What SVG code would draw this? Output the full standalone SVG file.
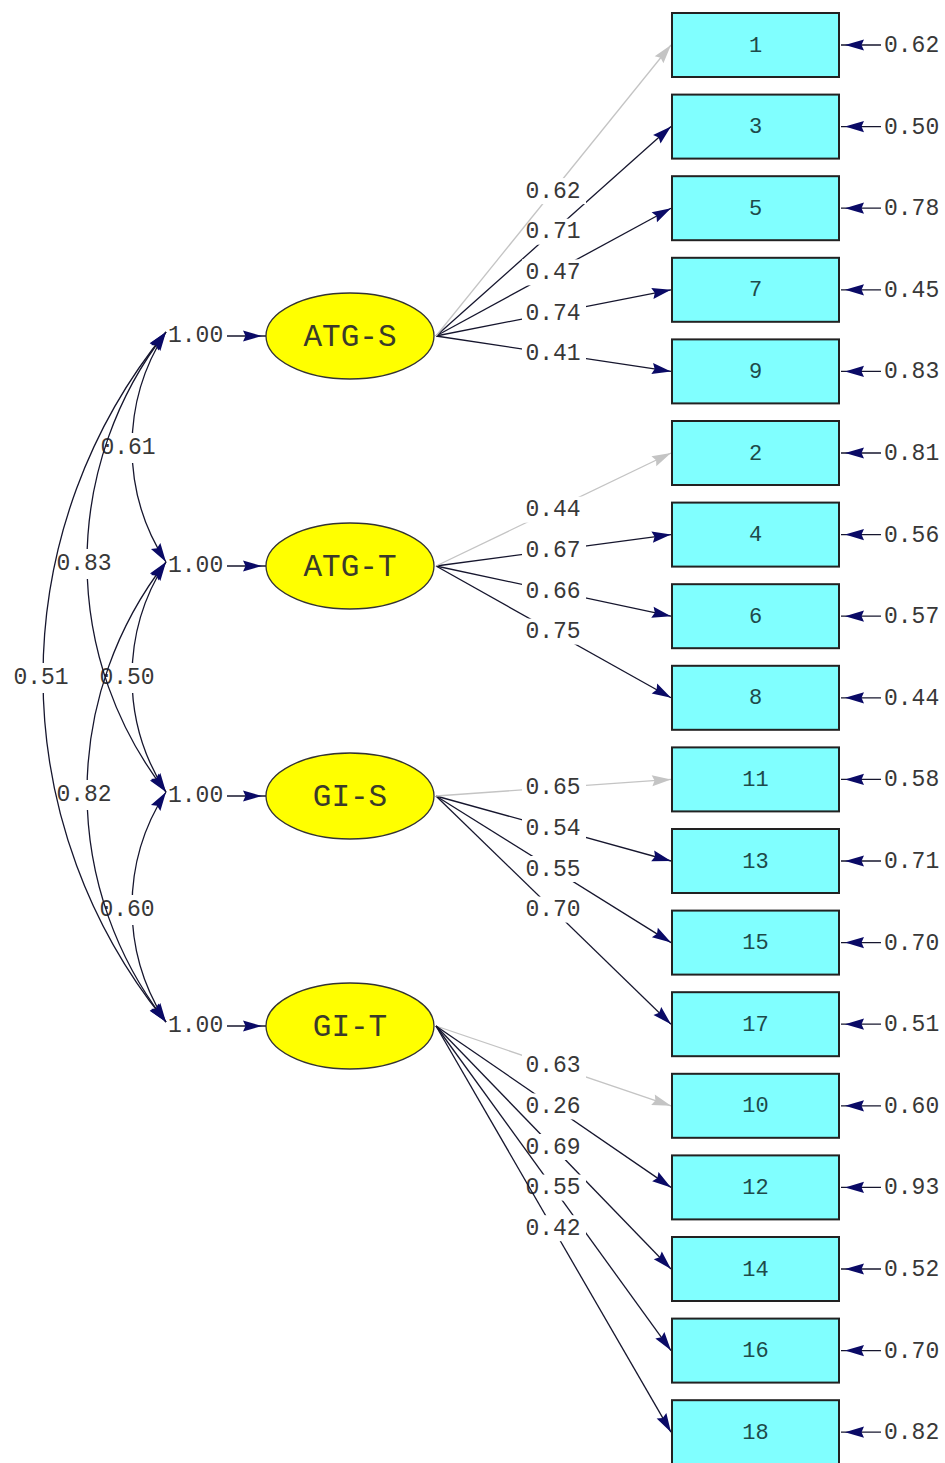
<svg xmlns="http://www.w3.org/2000/svg" width="945" height="1463" viewBox="0 0 945 1463">
  <style>
    .num { font-family: "Liberation Mono", "DejaVu Sans Mono", monospace; font-size: 23px; fill: #383838; dominant-baseline: central; }
    .mid { text-anchor: middle; }
    .obs-txt { font-family: "Liberation Mono", "DejaVu Sans Mono", monospace; font-size: 22px; fill: #1e4a4a; text-anchor: middle; dominant-baseline: central; }
    .lat-txt { font-family: "Liberation Mono", "DejaVu Sans Mono", monospace; font-size: 31px; fill: #3a3a2a; text-anchor: middle; dominant-baseline: central; }
    .obs { fill: #80ffff; stroke: #222; stroke-width: 2; }
    .lat { fill: #ffff00; stroke: #333; stroke-width: 1.3; }
    .path { fill: none; stroke: #16162e; stroke-width: 1.3; marker-end: url(#ah); }
    .short { fill: none; stroke: #16162e; stroke-width: 1.3; marker-end: url(#ahs); }
    .ref { fill: none; stroke: #c4c4c4; stroke-width: 1.3; marker-end: url(#ahg); }
    .cov { fill: none; stroke: #16162e; stroke-width: 1.3; marker-start: url(#ah); marker-end: url(#ah); }
    .gap { fill: #fff; }
  </style>
  <defs>
    <!-- standard arrowhead, tip on the path end -->
    <marker id="ah" viewBox="-21 -7 22 14" refX="0" refY="0" markerWidth="22" markerHeight="14" markerUnits="userSpaceOnUse" orient="auto-start-reverse">
      <path d="M0,0 L-19,-5.6 L-16.5,0 L-19,5.6 Z" fill="#0a0a66"/>
    </marker>
    <!-- arrowhead set back a little, line runs past the tip -->
    <marker id="ahs" viewBox="-21 -7 27 14" refX="4" refY="0" markerWidth="27" markerHeight="14" markerUnits="userSpaceOnUse" orient="auto">
      <path d="M0,0 L-19,-5.6 L-16.5,0 L-19,5.6 Z" fill="#0a0a66"/>
    </marker>
    <marker id="ahg" viewBox="-21 -7 22 14" refX="0" refY="0" markerWidth="22" markerHeight="14" markerUnits="userSpaceOnUse" orient="auto">
      <path d="M0,0 L-19,-5.6 L-16.5,0 L-19,5.6 Z" fill="#c4c4c4"/>
    </marker>
  </defs>
  <rect width="945" height="1463" fill="#fff"/>

  <g id="connectors">
    <!-- factor covariances: adjacent pairs -->
    <path class="cov" d="M166,332 A211.5,211.5 0 0 0 166,562"/>
    <rect class="gap" x="98" y="433" width="60" height="30"/>
    <text class="num mid" x="128" y="448">0.61</text>
    <path class="cov" d="M166,562 A211.5,211.5 0 0 0 166,792"/>
    <rect class="gap" x="97" y="663" width="60" height="30"/>
    <text class="num mid" x="127" y="678">0.50</text>
    <path class="cov" d="M166,792 A211.5,211.5 0 0 0 166,1022"/>
    <rect class="gap" x="97" y="895" width="60" height="30"/>
    <text class="num mid" x="127" y="910">0.60</text>
    <!-- covariances spanning one factor -->
    <path class="cov" d="M166,332 A374.3,374.3 0 0 0 166,792"/>
    <rect class="gap" x="54" y="549" width="60" height="30"/>
    <text class="num mid" x="84" y="564">0.83</text>
    <path class="cov" d="M166,562 A374.3,374.3 0 0 0 166,1022"/>
    <rect class="gap" x="54" y="780" width="60" height="30"/>
    <text class="num mid" x="84" y="795">0.82</text>
    <!-- outermost covariance -->
    <path class="cov" d="M166,332 A545.3,545.3 0 0 0 166,1022"/>
    <rect class="gap" x="11" y="663" width="60" height="30"/>
    <text class="num mid" x="41" y="678">0.51</text>

    <!-- factor variances -->
    <text class="num" x="168" y="336">1.00</text>
    <line class="short" x1="227" y1="336" x2="266" y2="336"/>
    <text class="num" x="168" y="566">1.00</text>
    <line class="short" x1="227" y1="566" x2="266" y2="566"/>
    <text class="num" x="168" y="796">1.00</text>
    <line class="short" x1="227" y1="796" x2="266" y2="796"/>
    <text class="num" x="168" y="1026">1.00</text>
    <line class="short" x1="227" y1="1026" x2="266" y2="1026"/>

    <!-- loadings ATG-S -->
    <line class="path" x1="436" y1="336" x2="671" y2="126.6"/>
    <rect class="gap" x="522" y="218.7" width="64" height="26"/>
    <text class="num mid" x="553" y="232.2">0.71</text>
    <line class="path" x1="436" y1="336" x2="671" y2="208.2"/>
    <rect class="gap" x="522" y="259.4" width="64" height="26"/>
    <text class="num mid" x="553" y="272.9">0.47</text>
    <line class="path" x1="436" y1="336" x2="671" y2="289.8"/>
    <rect class="gap" x="522" y="300" width="64" height="26"/>
    <text class="num mid" x="553" y="313.5">0.74</text>
    <line class="path" x1="436" y1="336" x2="671" y2="371.4"/>
    <rect class="gap" x="522" y="340.6" width="64" height="26"/>
    <text class="num mid" x="553" y="354.1">0.41</text>
    <line class="ref" x1="436" y1="336" x2="671" y2="45"/>
    <rect class="gap" x="522" y="178.1" width="64" height="26"/>
    <text class="num mid" x="553" y="191.6">0.62</text>

    <!-- loadings ATG-T -->
    <line class="path" x1="436" y1="566" x2="671" y2="534.6"/>
    <rect class="gap" x="522" y="537.4" width="64" height="26"/>
    <text class="num mid" x="553" y="550.9">0.67</text>
    <line class="path" x1="436" y1="566" x2="671" y2="616.2"/>
    <rect class="gap" x="522" y="578" width="64" height="26"/>
    <text class="num mid" x="553" y="591.5">0.66</text>
    <line class="path" x1="436" y1="566" x2="671" y2="697.8"/>
    <rect class="gap" x="522" y="618.6" width="64" height="26"/>
    <text class="num mid" x="553" y="632.1">0.75</text>
    <line class="ref" x1="436" y1="566" x2="671" y2="453"/>
    <rect class="gap" x="522" y="496.7" width="64" height="26"/>
    <text class="num mid" x="553" y="510.2">0.44</text>

    <!-- loadings GI-S -->
    <line class="path" x1="436" y1="796" x2="671" y2="861"/>
    <rect class="gap" x="522" y="815.4" width="64" height="26"/>
    <text class="num mid" x="553" y="828.9">0.54</text>
    <line class="path" x1="436" y1="796" x2="671" y2="942.6"/>
    <rect class="gap" x="522" y="856" width="64" height="26"/>
    <text class="num mid" x="553" y="869.5">0.55</text>
    <line class="path" x1="436" y1="796" x2="671" y2="1024.2"/>
    <rect class="gap" x="522" y="896.6" width="64" height="26"/>
    <text class="num mid" x="553" y="910.1">0.70</text>
    <line class="ref" x1="436" y1="796" x2="671" y2="779.4"/>
    <rect class="gap" x="522" y="774.7" width="64" height="26"/>
    <text class="num mid" x="553" y="788.2">0.65</text>

    <!-- loadings GI-T -->
    <line class="ref" x1="436" y1="1026" x2="671" y2="1105.8"/>
    <rect class="gap" x="522" y="1052.7" width="64" height="26"/>
    <text class="num mid" x="553" y="1066.2">0.63</text>
    <line class="path" x1="436" y1="1026" x2="671" y2="1187.4"/>
    <rect class="gap" x="522" y="1093.4" width="64" height="26"/>
    <text class="num mid" x="553" y="1106.9">0.26</text>
    <line class="path" x1="436" y1="1026" x2="671" y2="1269"/>
    <rect class="gap" x="522" y="1134" width="64" height="26"/>
    <text class="num mid" x="553" y="1147.5">0.69</text>
    <line class="path" x1="436" y1="1026" x2="671" y2="1350.6"/>
    <rect class="gap" x="522" y="1174.6" width="64" height="26"/>
    <text class="num mid" x="553" y="1188.1">0.55</text>
    <line class="path" x1="436" y1="1026" x2="671" y2="1432.2"/>
    <rect class="gap" x="522" y="1215.2" width="64" height="26"/>
    <text class="num mid" x="553" y="1228.7">0.42</text>

    <!-- error variances -->
    <g id="errors">
      <line class="short" x1="881" y1="45" x2="841" y2="45"/><text class="num" x="884" y="46">0.62</text>
      <line class="short" x1="881" y1="126.6" x2="841" y2="126.6"/><text class="num" x="884" y="127.6">0.50</text>
      <line class="short" x1="881" y1="208.2" x2="841" y2="208.2"/><text class="num" x="884" y="209.2">0.78</text>
      <line class="short" x1="881" y1="289.8" x2="841" y2="289.8"/><text class="num" x="884" y="290.8">0.45</text>
      <line class="short" x1="881" y1="371.4" x2="841" y2="371.4"/><text class="num" x="884" y="372.4">0.83</text>
      <line class="short" x1="881" y1="453" x2="841" y2="453"/><text class="num" x="884" y="454">0.81</text>
      <line class="short" x1="881" y1="534.6" x2="841" y2="534.6"/><text class="num" x="884" y="535.6">0.56</text>
      <line class="short" x1="881" y1="616.2" x2="841" y2="616.2"/><text class="num" x="884" y="617.2">0.57</text>
      <line class="short" x1="881" y1="697.8" x2="841" y2="697.8"/><text class="num" x="884" y="698.8">0.44</text>
      <line class="short" x1="881" y1="779.4" x2="841" y2="779.4"/><text class="num" x="884" y="780.4">0.58</text>
      <line class="short" x1="881" y1="861" x2="841" y2="861"/><text class="num" x="884" y="862">0.71</text>
      <line class="short" x1="881" y1="942.6" x2="841" y2="942.6"/><text class="num" x="884" y="943.6">0.70</text>
      <line class="short" x1="881" y1="1024.2" x2="841" y2="1024.2"/><text class="num" x="884" y="1025.2">0.51</text>
      <line class="short" x1="881" y1="1105.8" x2="841" y2="1105.8"/><text class="num" x="884" y="1106.8">0.60</text>
      <line class="short" x1="881" y1="1187.4" x2="841" y2="1187.4"/><text class="num" x="884" y="1188.4">0.93</text>
      <line class="short" x1="881" y1="1269" x2="841" y2="1269"/><text class="num" x="884" y="1270">0.52</text>
      <line class="short" x1="881" y1="1350.6" x2="841" y2="1350.6"/><text class="num" x="884" y="1351.6">0.70</text>
      <line class="short" x1="881" y1="1432.2" x2="841" y2="1432.2"/><text class="num" x="884" y="1433.2">0.82</text>
    </g>
  </g>

  <!-- latent factors -->
  <g id="ATG-S"><ellipse class="lat" cx="350" cy="336" rx="84" ry="43"/><text class="lat-txt" x="350" y="337">ATG-S</text></g>
  <g id="ATG-T"><ellipse class="lat" cx="350" cy="566" rx="84" ry="43"/><text class="lat-txt" x="350" y="567">ATG-T</text></g>
  <g id="GI-S"><ellipse class="lat" cx="350" cy="796" rx="84" ry="43"/><text class="lat-txt" x="350" y="797">GI-S</text></g>
  <g id="GI-T"><ellipse class="lat" cx="350" cy="1026" rx="84" ry="43"/><text class="lat-txt" x="350" y="1027">GI-T</text></g>

  <!-- observed indicators -->
  <g id="v1"><rect class="obs" x="672" y="13" width="167" height="64"/><text class="obs-txt" x="755.5" y="46">1</text></g>
  <g id="v3"><rect class="obs" x="672" y="94.6" width="167" height="64"/><text class="obs-txt" x="755.5" y="127.6">3</text></g>
  <g id="v5"><rect class="obs" x="672" y="176.2" width="167" height="64"/><text class="obs-txt" x="755.5" y="209.2">5</text></g>
  <g id="v7"><rect class="obs" x="672" y="257.8" width="167" height="64"/><text class="obs-txt" x="755.5" y="290.8">7</text></g>
  <g id="v9"><rect class="obs" x="672" y="339.4" width="167" height="64"/><text class="obs-txt" x="755.5" y="372.4">9</text></g>
  <g id="v2"><rect class="obs" x="672" y="421" width="167" height="64"/><text class="obs-txt" x="755.5" y="454">2</text></g>
  <g id="v4"><rect class="obs" x="672" y="502.6" width="167" height="64"/><text class="obs-txt" x="755.5" y="535.6">4</text></g>
  <g id="v6"><rect class="obs" x="672" y="584.2" width="167" height="64"/><text class="obs-txt" x="755.5" y="617.2">6</text></g>
  <g id="v8"><rect class="obs" x="672" y="665.8" width="167" height="64"/><text class="obs-txt" x="755.5" y="698.8">8</text></g>
  <g id="v11"><rect class="obs" x="672" y="747.4" width="167" height="64"/><text class="obs-txt" x="755.5" y="780.4">11</text></g>
  <g id="v13"><rect class="obs" x="672" y="829" width="167" height="64"/><text class="obs-txt" x="755.5" y="862">13</text></g>
  <g id="v15"><rect class="obs" x="672" y="910.6" width="167" height="64"/><text class="obs-txt" x="755.5" y="943.6">15</text></g>
  <g id="v17"><rect class="obs" x="672" y="992.2" width="167" height="64"/><text class="obs-txt" x="755.5" y="1025.2">17</text></g>
  <g id="v10"><rect class="obs" x="672" y="1073.8" width="167" height="64"/><text class="obs-txt" x="755.5" y="1106.8">10</text></g>
  <g id="v12"><rect class="obs" x="672" y="1155.4" width="167" height="64"/><text class="obs-txt" x="755.5" y="1188.4">12</text></g>
  <g id="v14"><rect class="obs" x="672" y="1237" width="167" height="64"/><text class="obs-txt" x="755.5" y="1270">14</text></g>
  <g id="v16"><rect class="obs" x="672" y="1318.6" width="167" height="64"/><text class="obs-txt" x="755.5" y="1351.6">16</text></g>
  <g id="v18"><rect class="obs" x="672" y="1400.2" width="167" height="64"/><text class="obs-txt" x="755.5" y="1433.2">18</text></g>
</svg>
